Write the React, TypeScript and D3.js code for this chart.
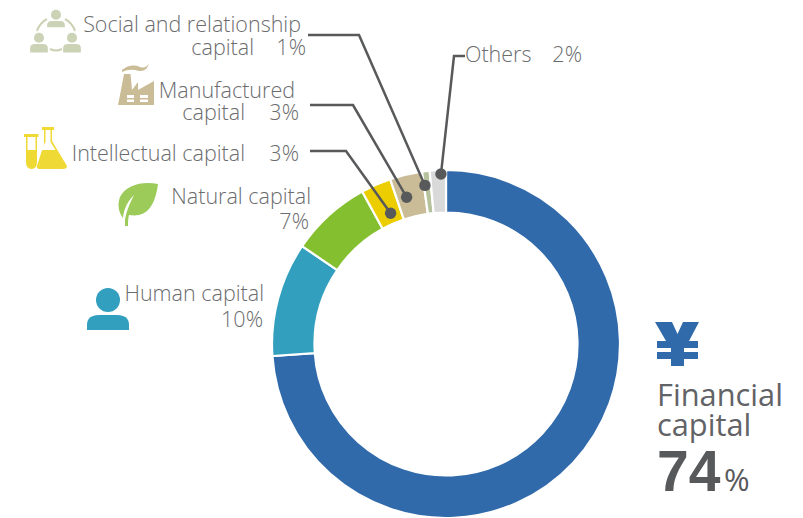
import React from "react";
import * as d3 from "d3";

const categories = ["Financial capital","Human capital","Natural capital","Intellectual capital","Manufactured capital","Social and relationship capital","Others"];
const values = [73.9,10.6,7.5,2.8,3.0,0.7,1.5];
const colors = ["#316aab","#329fbe","#84bf2f","#eccd00","#c9bc97","#b5c29b","#d9d9d9"];

const W = 803, H = 518;
const cx = 446, cy = 344, R = 174, r0 = 131.5;
const FONT = "'Open Sans', sans-serif";
const INK = "#6b6c6e", DARK = "#58595b";

const pie = d3.pie<number>().sort(null).startAngle(0).endAngle(2*Math.PI);
const arcs = pie(values);
const arc = d3.arc<d3.PieArcDatum<number>>().innerRadius(r0).outerRadius(R);

const polar = (a:number, rad:number):[number,number] => [cx+rad*Math.sin(a), cy-rad*Math.cos(a)];
const mid = (i:number)=> (arcs[i].startAngle+arcs[i].endAngle)/2;

const leaders = [
  { i:3, rad:142, deg:0.8, path:[[310,151],[346,151]] },
  { i:4, rad:152, deg:-1.7, path:[[310,105],[353,105]] },
  { i:5, rad:160, deg:-0.9, path:[[308,35],[359,35]] },
  { i:6, rad:170, deg:1.0, path:[[465,56],[454,56]] },
];
const line = d3.line();

type L = {t:string,x:number,y:number,a?:string};
const labels:L[] = [
  {t:"Social and relationship",x:301,y:31.7,a:"end"},
  {t:"capital",x:254,y:54.7,a:"end"},{t:"1%",x:306,y:54.7,a:"end"},
  {t:"Manufactured",x:295,y:97.7,a:"end"},
  {t:"capital",x:245,y:119.7,a:"end"},{t:"3%",x:299,y:119.7,a:"end"},
  {t:"Intellectual capital",x:245,y:160.7,a:"end"},{t:"3%",x:299,y:160.7,a:"end"},
  {t:"Natural capital",x:311,y:203.7,a:"end"},{t:"7%",x:309,y:228.7,a:"end"},
  {t:"Human capital",x:264,y:300.7,a:"end"},{t:"10%",x:263,y:326.7,a:"end"},
  {t:"Others",x:465,y:61.7},{t:"2%",x:582,y:61.7,a:"end"},
];

function Person({x,y,s,fill,bh=15}:{x:number,y:number,s:number,fill:string,bh?:number}){
  return <g transform={`translate(${x},${y}) scale(${s})`} fill={fill}>
    <circle cx={0} cy={-15} r={12}/>
    <path d={`M-21 ${bh} V10 Q-21 0 -9 0 H9 Q21 0 21 10 V${bh} Z`}/>
  </g>;
}

export default function App(){
  return <svg width={W} height={H} viewBox={`0 0 ${W} ${H}`} style={{position:"absolute",left:0,top:0,background:"#fff"}}>
    {arcs.map((d,i)=><path key={categories[i]} d={arc(d)!} transform={`translate(${cx},${cy})`} fill={colors[i]} stroke="#fff" strokeWidth={2.2}/>)}
    {leaders.map(l=>{
      const p = polar(mid(l.i)+l.deg*Math.PI/180, l.rad);
      return <g key={l.i}>
        <path d={line([...(l.path as [number,number][]),p])!} fill="none" stroke={DARK} strokeWidth={2.5}/>
        <circle cx={p[0]} cy={p[1]} r={5.7} fill={DARK}/>
      </g>;
    })}
    <g fontFamily={FONT} fontWeight={300} fontSize={21.5} fill={INK}>
      {labels.map((l,i)=><text key={i} x={l.x} y={l.y} textAnchor={l.a||"start"}>{l.t}</text>)}
      <text x={657} y={406} fontSize={30.8} fontWeight={400} fill="#626366">Financial</text>
      <text x={657} y={436} fontSize={30.8} fontWeight={400} fill="#626366">capital</text>
      <text x={657} y={491} fontSize={57} fontWeight={700} fill={DARK} fontFamily="'Liberation Sans', sans-serif">74</text>
      <text x={724} y={491} fontSize={31} fontWeight={400} fill={DARK}>%</text>
    </g>
    {/* yen icon */}
    <path fill="#316aab" d="M655 322 H672 L677.5 334 L683 322 H699 L689 341 H698 V348 H684 V352 H698 V359 H684 V366 H671 V359 H657 V352 H671 V348 H657 V341 H666 Z"/>
    {/* human */}
    <Person x={108} y={315} s={1} fill="#329fbe"/>
    {/* leaf */}
    <path d="M158 184 C142 181 126 185 120 197 C117 205 119 213 123 218 C124 208 128 201 134 195 C130 203 126 212 125 220 L125 226 L128 226 C128 222 128 219 129 215 C146 218 155 207 158 184 Z" fill="#9ccb59"/>
    {/* flask and tube */}
    <g fill="#efd935">
      <path d="M24 134 H38.5 V137 H37 V162 Q37 169 31.5 169 Q26 169 26 162 V137 H24 Z" />
      <path d="M42 127 H54 V130 H52 V141 L67 166 Q67 169 63 169 H40 Q36 169 37 166 L44 144 V130 H42 Z"/>
    </g>
    <g fill="#fff">
      <rect x={27.5} y={137} width={8} height={13}/>
      <path d="M45.5 130 H50.5 V142 L55.5 150 H41 L45.5 142 Z"/>
    </g>
    {/* factory */}
    <g fill="#c9bc97">
      <path d="M118 105 L120 95 L124 74 H130.5 L132 90 L138 82 V90 L154 81 V105 Z"/>
      <path d="M122 70 Q131 63 140 67 Q146 69 149 63 Q147 72 139 71 Q130 68 122 72 Z"/>
    </g>
    <g fill="#fff">
      <rect x={127} y={95} width={7} height={3}/><rect x={140} y={95} width={8} height={3}/>
      <rect x={127} y={99.5} width={7} height={2.5}/><rect x={140} y={99.5} width={8} height={2.5}/>
    </g>
    {/* social */}
    <g>
      <Person x={56} y={21} s={0.42} fill="#cbd2b5"/>
      <Person x={39} y={44} s={0.42} bh={20} fill="#cbd2b5"/>
      <Person x={72} y={44} s={0.42} bh={20} fill="#cbd2b5"/>
      <path d="M37 31 A21 21 0 0 1 47 19 M65 19 A21 21 0 0 1 75 31 M50 49 Q56 52 62 49" fill="none" stroke="#cbd2b5" strokeWidth={2}/>
    </g>
  </svg>;
}
